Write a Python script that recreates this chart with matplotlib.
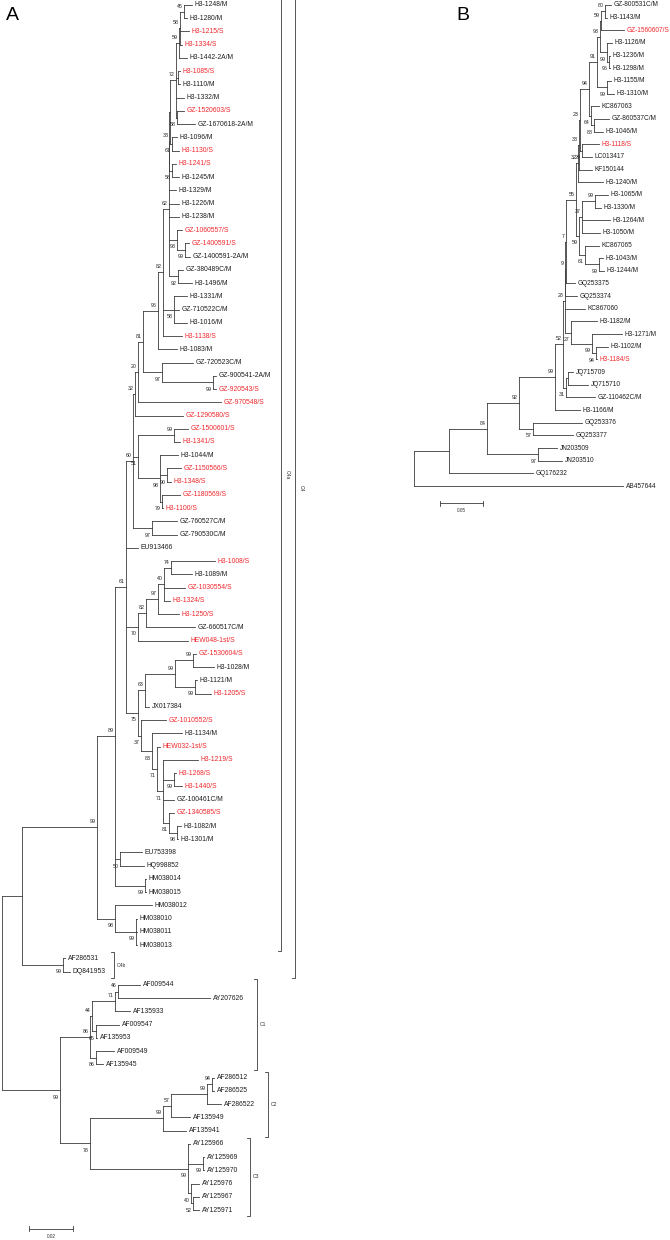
import matplotlib
matplotlib.use('Agg')
import matplotlib.pyplot as plt
from matplotlib.collections import LineCollection

plt.rcParams['font.family'] = ['Liberation Sans', 'DejaVu Sans']

# ---------------- panel A ----------------
# tips top to bottom, distance of each tip from the root (substitutions/site)
tips_a = ['H3-1248/M', 'H3-1280/M', 'H3-1215/S', 'H3-1334/S', 'H3-1442-2A/M', 'H3-1085/S',
          'H3-1110/M', 'H3-1332/M', 'GZ-1520603/S', 'GZ-1670618-2A/M', 'H3-1096/M', 'H3-1130/S',
          'H3-1241/S', 'H3-1245/M', 'H3-1329/M', 'H3-1226/M', 'H3-1238/M', 'GZ-1060557/S',
          'GZ-1400591/S', 'GZ-1400591-2A/M', 'GZ-380489C/M', 'H3-1496/M', 'H3-1331/M',
          'GZ-710522C/M', 'H3-1016/M', 'H3-1138/S', 'H3-1083/M', 'GZ-720523C/M',
          'GZ-900541-2A/M', 'GZ-920543/S', 'GZ-970548/S', 'GZ-1290580/S', 'GZ-1500601/S',
          'H3-1341/S', 'H3-1044/M', 'GZ-1150566/S', 'H3-1348/S', 'GZ-1180569/S', 'H3-1100/S',
          'GZ-760527C/M', 'GZ-790530C/M', 'EU913466', 'H3-1008/S', 'H3-1089/M', 'GZ-1030554/S',
          'H3-1324/S', 'H3-1250/S', 'GZ-660517C/M', 'HEW048-1st/S', 'GZ-1530604/S', 'H3-1028/M',
          'H3-1121/M', 'H3-1205/S', 'JX017384', 'GZ-1010552/S', 'H3-1134/M', 'HEW032-1st/S',
          'H3-1219/S', 'H3-1268/S', 'H3-1440/S', 'GZ-100461C/M', 'GZ-1340585/S', 'H3-1082/M',
          'H3-1301/M', 'EU753398', 'HQ998852', 'HM038014', 'HM038015', 'HM038012', 'HM038010',
          'HM038011', 'HM038013', 'AF286531', 'DQ841953', 'AF009544', 'AY207626', 'AF135933',
          'AF009547', 'AF135953', 'AF009549', 'AF135945', 'AF286512', 'AF286525', 'AF286522',
          'AF135949', 'AF135941', 'AY125966', 'AY125969', 'AY125970', 'AY125976', 'AY125967',
          'AY125971']
dist_a = [0.0864, 0.0841, 0.0850, 0.0818, 0.0841, 0.0809, 0.0809, 0.0827, 0.0827, 0.0877,
          0.0795, 0.0805, 0.0791, 0.0805, 0.0791, 0.0805, 0.0805, 0.0818, 0.0850, 0.0855,
          0.0823, 0.0864, 0.0841, 0.0805, 0.0841, 0.0818, 0.0795, 0.0868, 0.0973, 0.0973,
          0.0995, 0.0823, 0.0845, 0.0809, 0.0800, 0.0814, 0.0768, 0.0809, 0.0732, 0.0795,
          0.0795, 0.0618, 0.0968, 0.0864, 0.0832, 0.0764, 0.0805, 0.0877, 0.0845, 0.0882,
          0.0964, 0.0886, 0.0950, 0.0668, 0.0745, 0.0818, 0.0718, 0.0891, 0.0791, 0.0818,
          0.0782, 0.0782, 0.0814, 0.0800, 0.0636, 0.0645, 0.0655, 0.0655, 0.0682, 0.0614,
          0.0614, 0.0614, 0.0286, 0.0309, 0.0627, 0.0945, 0.0582, 0.0532, 0.0432, 0.0509,
          0.0459, 0.0964, 0.0964, 0.0995, 0.0855, 0.0836, 0.0855, 0.0918, 0.0918, 0.0895,
          0.0895, 0.0895]
# internal nodes: id, bootstrap, distance from root, children
nodes_a = [
    ('a45', '45', 0.0827, ['H3-1248/M', 'H3-1280/M']),
    ('a58a', '58', 0.0809, ['a45', 'H3-1215/S', 'H3-1334/S']),
    ('a59', '59', 0.0805, ['a58a', 'H3-1442-2A/M']),
    ('a1085', '', 0.0800, ['H3-1085/S', 'H3-1110/M']),
    ('a58b', '58', 0.0795, ['GZ-1520603/S', 'GZ-1670618-2A/M']),
    ('a72', '72', 0.0791, ['a59', 'a1085', 'H3-1332/M', 'a58b']),
    ('a61', '61', 0.0773, ['H3-1096/M', 'H3-1130/S']),
    ('ap', '', 0.0764, ['a72', 'a61']),
    ('a58c', '58', 0.0773, ['H3-1241/S', 'H3-1245/M']),
    ('a33', '33', 0.0761, ['ap', 'a58c']),
    ('a99f', '99', 0.0832, ['GZ-1400591/S', 'GZ-1400591-2A/M']),
    ('a93', '93', 0.0795, ['GZ-1060557/S', 'a99f']),
    ('a92', '92', 0.0800, ['GZ-380489C/M', 'H3-1496/M']),
    ('a62', '62', 0.0759, ['a33', 'H3-1329/M', 'H3-1226/M', 'H3-1238/M', 'a93', 'a92']),
    ('a58d', '58', 0.0782, ['H3-1331/M', 'GZ-710522C/M', 'H3-1016/M']),
    ('a82', '82', 0.0732, ['a62', 'a58d', 'H3-1138/S']),
    ('a96', '96', 0.0709, ['a82', 'H3-1083/M']),
    ('a99g', '99', 0.0959, ['GZ-900541-2A/M', 'GZ-920543/S']),
    ('a97a', '97', 0.0727, ['GZ-720523C/M', 'a99g']),
    ('a81', '81', 0.0641, ['a96', 'a97a']),
    ('a20', '20', 0.0618, ['a81', 'GZ-970548/S']),
    ('a32', '32', 0.0605, ['a20', 'GZ-1290580/S']),
    ('a99h', '99', 0.0782, ['GZ-1500601/S', 'H3-1341/S']),
    ('a90', '90', 0.0750, ['GZ-1150566/S', 'H3-1348/S']),
    ('a79', '79', 0.0727, ['GZ-1180569/S', 'H3-1100/S']),
    ('a98', '98', 0.0718, ['H3-1044/M', 'a90', 'a79']),
    ('a51', '51', 0.0618, ['a99h', 'a98']),
    ('a97b', '97', 0.0682, ['GZ-760527C/M', 'GZ-790530C/M']),
    ('a60', '60', 0.0595, ['a32', 'a51', 'a97b']),
    ('a74', '74', 0.0768, ['H3-1008/S', 'H3-1089/M']),
    ('a40', '40', 0.0736, ['a74', 'GZ-1030554/S', 'H3-1324/S']),
    ('a97c', '97', 0.0709, ['a40', 'H3-1250/S']),
    ('a82b', '82', 0.0655, ['a97c', 'GZ-660517C/M']),
    ('a70', '70', 0.0618, ['a82b', 'HEW048-1st/S']),
    ('a99i', '99', 0.0868, ['GZ-1530604/S', 'H3-1028/M']),
    ('a99j', '99', 0.0877, ['H3-1121/M', 'H3-1205/S']),
    ('a99k', '99', 0.0786, ['a99i', 'a99j']),
    ('a63', '63', 0.0650, ['a99k', 'JX017384']),
    ('a99l', '99', 0.0782, ['H3-1268/S', 'H3-1440/S']),
    ('a98x', '98', 0.0795, ['H3-1082/M', 'H3-1301/M']),
    ('a81b', '81', 0.0759, ['GZ-1340585/S', 'a98x']),
    ('a71b', '71', 0.0732, ['H3-1219/S', 'a99l', 'GZ-100461C/M', 'a81b']),
    ('a71a', '71', 0.0705, ['HEW032-1st/S', 'a71b']),
    ('a83', '83', 0.0682, ['H3-1134/M', 'a71a']),
    ('a37', '37', 0.0632, ['GZ-1010552/S', 'a83']),
    ('a75', '75', 0.0618, ['a63', 'a37']),
    ('a61b', '61', 0.0564, ['a60', 'EU913466', 'a70', 'a75']),
    ('a50', '50', 0.0536, ['EU753398', 'HQ998852']),
    ('a99m', '99', 0.0650, ['HM038014', 'HM038015']),
    ('a89', '89', 0.0514, ['a61b', 'a50', 'a99m']),
    ('a99n', '99', 0.0609, ['HM038010', 'HM038011', 'HM038013']),
    ('a98n', '98', 0.0514, ['HM038012', 'a99n']),
    ('c4a', '99', 0.0432, ['a89', 'a98n']),
    ('c4b', '99', 0.0277, ['AF286531', 'DQ841953']),
    ('c4', '', 0.0091, ['c4a', 'c4b']),
    ('a46', '46', 0.0527, ['AF009544', 'AY207626']),
    ('a71c', '71', 0.0514, ['a46', 'AF135933']),
    ('a65', '65', 0.0427, ['AF009547', 'AF135953']),
    ('a44', '44', 0.0409, ['a71c', 'a65']),
    ('a86c', '86', 0.0427, ['AF009549', 'AF135945']),
    ('c1', '86', 0.0400, ['a44', 'a86c']),
    ('a94', '94', 0.0955, ['AF286512', 'AF286525']),
    ('a99o', '99', 0.0932, ['a94', 'AF286522']),
    ('a57', '57', 0.0768, ['a99o', 'AF135949']),
    ('c2', '99', 0.0732, ['a57', 'AF135941']),
    ('a99p', '99', 0.0914, ['AY125969', 'AY125970']),
    ('a52', '52', 0.0868, ['AY125967', 'AY125971']),
    ('a40b', '40', 0.0859, ['AY125976', 'a52']),
    ('c3', '99', 0.0845, ['AY125966', 'a99p', 'a40b']),
    ('a78', '78', 0.0400, ['c2', 'c3']),
    ('a99c', '99', 0.0264, ['c1', 'a78']),
    ('root', '', 0.0, ['c4', 'a99c']),
]
# clade brackets: name, first tip, last tip
clade_names = ['C4a', 'C4', 'C4b', 'C1', 'C2', 'C3']
clade_first = ['H3-1248/M', 'H3-1248/M', 'AF286531', 'AF009544', 'AF286512', 'AY125966']
clade_last = ['HM038013', 'DQ841953', 'DQ841953', 'AF135945', 'AF135941', 'AY125971']

# ---------------- panel B ----------------
tips_b = ['GZ-800531C/M', 'H3-1143/M', 'GZ-1560607/S', 'H3-1126/M', 'H3-1236/M', 'H3-1298/M',
          'H3-1155/M', 'H3-1310/M', 'KC867063', 'GZ-860537C/M', 'H3-1046/M', 'H3-1118/S',
          'LC013417', 'KF150144', 'H3-1240/M', 'H3-1065/M', 'H3-1330/M', 'H3-1264/M',
          'H3-1050/M', 'KC867065', 'H3-1043/M', 'H3-1244/M', 'GQ253375', 'GQ253374', 'KC867060',
          'H3-1182/M', 'H3-1271/M', 'H3-1102/M', 'H3-1184/S', 'JQ715709', 'JQ715710',
          'GZ-110462C/M', 'H3-1166/M', 'GQ253376', 'GQ253377', 'JN203509', 'JN203510',
          'GQ176232', 'AB457644']
dist_b = [0.2291, 0.2244, 0.2442, 0.2302, 0.2279, 0.2279, 0.2291, 0.2326, 0.2151, 0.2267,
          0.2198, 0.2151, 0.2070, 0.2070, 0.2198, 0.2256, 0.2174, 0.2279, 0.2163, 0.2151,
          0.2198, 0.2209, 0.1872, 0.1895, 0.1988, 0.2128, 0.2419, 0.2256, 0.2128, 0.1849,
          0.2023, 0.2105, 0.1930, 0.1953, 0.1849, 0.1663, 0.1721, 0.1384, 0.2430]
nodes_b = [
    ('b80', '80', 0.2221, ['GZ-800531C/M', 'H3-1143/M']),
    ('b59b', '59', 0.2174, ['b80', 'GZ-1560607/S']),
    ('b96', '96', 0.2267, ['H3-1236/M', 'H3-1298/M']),
    ('b99a', '99', 0.2244, ['H3-1126/M', 'b96']),
    ('b93', '93', 0.2163, ['b59b', 'b99a']),
    ('b99b', '99', 0.2244, ['H3-1155/M', 'H3-1310/M']),
    ('b91', '91', 0.2128, ['b93', 'b99b']),
    ('b88', '88', 0.2093, ['GZ-860537C/M', 'H3-1046/M']),
    ('b64', '64', 0.2058, ['KC867063', 'b88']),
    ('b94b', '94', 0.2035, ['b91', 'b64']),
    ('b29', '29', 0.1953, ['H3-1118/S', 'LC013417']),
    ('b23', '23', 0.1930, ['b94b', 'b29']),
    ('b33', '33', 0.1919, ['b23', 'KF150144']),
    ('b32', '32', 0.1907, ['b33', 'H3-1240/M']),
    ('b99c', '99', 0.2105, ['H3-1065/M', 'H3-1330/M']),
    ('b37', '37', 0.1953, ['b99c', 'H3-1264/M', 'H3-1050/M']),
    ('b99d', '99', 0.2151, ['H3-1043/M', 'H3-1244/M']),
    ('b61', '61', 0.1988, ['KC867065', 'b99d']),
    ('b59', '59', 0.1919, ['b37', 'b61']),
    ('b55', '55', 0.1884, ['b32', 'b59']),
    ('b7', '7', 0.1767, ['b55', 'GQ253375']),
    ('b9', '9', 0.1760, ['b7', 'GQ253374']),
    ('b94', '94', 0.2116, ['H3-1102/M', 'H3-1184/S']),
    ('b99e', '99', 0.2070, ['H3-1271/M', 'b94']),
    ('b27', '27', 0.1826, ['H3-1182/M', 'b99e']),
    ('bup', '28', 0.1756, ['b9', 'KC867060', 'b27']),
    ('bjq', '', 0.1791, ['JQ715709', 'JQ715710']),
    ('b31', '31', 0.1767, ['bjq', 'GZ-110462C/M']),
    ('b52', '52', 0.1733, ['bup', 'b31']),
    ('b99f', '99', 0.1640, ['b52', 'H3-1166/M']),
    ('b57', '57', 0.1384, ['GQ253376', 'GQ253377']),
    ('b92', '92', 0.1221, ['b99f', 'b57']),
    ('b97', '97', 0.1442, ['JN203509', 'JN203510']),
    ('b84', '84', 0.0849, ['b92', 'b97']),
    ('b0', '', 0.0407, ['b84', 'GQ176232']),
    ('root', '', 0.0, ['b0', 'AB457644']),
]

LINE = '#3c3c3c'
RED = '#f0282d'


def draw_tree(ax, nodes, tips, dists, fs_tip, fs_boot):
    table = {nid: (boot, d, kids) for nid, boot, d, kids in nodes}
    tip_d = dict(zip(tips, dists))
    pos = {}

    def place(nid):
        if nid not in table:
            pos[nid] = (tip_d[nid], tips.index(nid))
            return pos[nid]
        ys = [place(k)[1] for k in table[nid][2]]
        pos[nid] = (table[nid][1], (ys[0] + ys[-1]) / 2)
        return pos[nid]

    place('root')
    segs = []
    for nid, (boot, d, kids) in table.items():
        x, y = pos[nid]
        segs.append([(x, pos[kids[0]][1]), (x, pos[kids[-1]][1])])
        for i, k in enumerate(kids):
            kx, ky = pos[k]
            segs.append([(x, ky), (kx, ky)])
            # support value sits left of the node, above it for an upper child
            if k in table and table[k][0]:
                dy = 4.0 if i == 0 else -5.0
                ax.annotate(table[k][0], (kx, ky), xytext=(-0.8, dy), textcoords='offset points',
                            ha='right', va='center', fontsize=fs_boot, color='#222222')
    ax.add_collection(LineCollection(segs, colors=LINE, linewidths=0.6, capstyle='projecting'))
    for name in tips:
        x, y = pos[name]
        ax.annotate(name, (x, y), xytext=(2.0, 0), textcoords='offset points', ha='left',
                    va='center', fontsize=fs_tip, color=RED if name.endswith('/S') else '#1e1e1e')
    return pos


def scale_bar(ax, x0, length, y, label):
    ax.plot([x0, x0 + length], [y, y], color=LINE, lw=0.6)
    ax.plot([x0, x0], [y - 0.2, y + 0.2], color=LINE, lw=0.6)
    ax.plot([x0 + length, x0 + length], [y - 0.2, y + 0.2], color=LINE, lw=0.6)
    ax.text(x0 + length / 2, y + 0.6, label, ha='center', va='center', fontsize=3.4, color='#333333')


fig = plt.figure(figsize=(6.7, 12.4), dpi=100)

# panel A: 2200 px per substitution/site, 13.24 px per tip
ax_a = fig.add_axes([0, 0, 300 / 670, 1])
ax_a.set_xlim(-2 / 2200, 298 / 2200)
ax_a.set_ylim(1235 / 13.242, -5 / 13.242)
ax_a.axis('off')
pos_a = draw_tree(ax_a, nodes_a, tips_a, dist_a, 4.9, 3.8)

bracket_x = {'C4a': 0.1268, 'C4': 0.1330, 'C4b': 0.0510, 'C1': 0.1159, 'C2': 0.1209, 'C3': 0.1127}
for name, first, last in zip(clade_names, clade_first, clade_last):
    bx = bracket_x[name]
    y0 = pos_a[first][1] - 0.45
    y1 = pos_a[last][1] + 0.45
    tick = 0.0013
    ax_a.plot([bx - tick, bx, bx, bx - tick], [y0, y0, y1, y1], color=LINE, lw=0.6,
              clip_on=False)
    if name in ('C4a', 'C4'):
        ax_a.text(bx + 0.0030, (y0 + y1) / 2, name, rotation=270, ha='center', va='center',
                  fontsize=3.6, color='#333333')
    else:
        ax_a.text(bx + 0.0012, (y0 + y1) / 2, name, ha='left', va='center', fontsize=3.6,
                  color='#333333')

scale_bar(ax_a, 0.0123, 0.02, 92.4, '0.02')

# panel B: 860 px per substitution/site, 12.66 px per tip
ax_b = fig.add_axes([400 / 670, 0, 270 / 670, 1])
ax_b.set_xlim(-14 / 860, 256 / 860)
ax_b.set_ylim(1235 / 12.658, -5 / 12.658)
ax_b.axis('off')
draw_tree(ax_b, nodes_b, tips_b, dist_b, 4.7, 3.8)
scale_bar(ax_b, 0.0302, 0.05, 39.35, '0.05')

fig.text(12 / 670, 1 - 16 / 1240, 'A', fontsize=14, ha='center', va='center')
fig.text(463 / 670, 1 - 16 / 1240, 'B', fontsize=14, ha='center', va='center')

fig.savefig('out.png', dpi=100)
